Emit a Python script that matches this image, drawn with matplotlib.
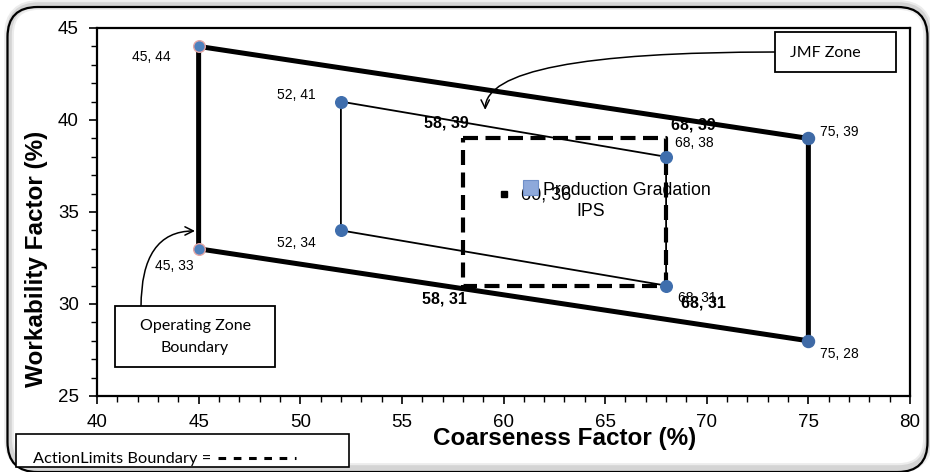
import matplotlib
matplotlib.use("Agg")
import matplotlib.pyplot as plt
from matplotlib.patches import FancyBboxPatch, Rectangle
from matplotlib.lines import Line2D
from matplotlib.ticker import MultipleLocator

plt.rcParams['font.family'] = ['Liberation Sans', 'DejaVu Sans']

# ---- data ----
op_x = [45, 75, 75, 45, 45]
op_y = [44, 39, 28, 33, 44]
jmf_x = [52, 68, 68, 52, 52]
jmf_y = [41, 38, 31, 34, 41]
act_x = [58, 68, 68, 58, 58]
act_y = [39, 39, 31, 31, 39]
prod_x = [60]
prod_y = [36]

W, H = 930, 472
fig = plt.figure(figsize=(W / 100, H / 100), dpi=100)

# outer rounded frame with soft shadow
for lw_, col in [(7, '#ececec'), (4, '#d4d4d4')]:
    shadow = FancyBboxPatch((0.09, 0.04), 9.19, 4.63,
                            boxstyle="round,pad=0,rounding_size=0.3",
                            transform=fig.dpi_scale_trans, fc='none', ec=col, lw=lw_, zorder=0)
    fig.add_artist(shadow)
frame = FancyBboxPatch((0.075, 0.0), 9.2, 4.65,
                       boxstyle="round,pad=0,rounding_size=0.3",
                       transform=fig.dpi_scale_trans, fc='none', ec='black', lw=1.6, zorder=1)
fig.add_artist(frame)

ax = fig.add_axes([97 / W, 1 - 396 / H, (910 - 97) / W, (396 - 28) / H])
ax.set_xlim(40, 80)
ax.set_ylim(25, 45)
ax.xaxis.set_major_locator(MultipleLocator(5))
ax.xaxis.set_minor_locator(MultipleLocator(1))
ax.yaxis.set_major_locator(MultipleLocator(5))
ax.yaxis.set_minor_locator(MultipleLocator(1))
ax.tick_params(which='major', direction='out', length=6, width=1.2, labelsize=13.5)
ax.tick_params(axis='x', which='major', pad=7)
ax.tick_params(axis='y', which='major', pad=7)
ax.tick_params(which='minor', direction='out', length=4, width=1.0)
for s in ax.spines.values():
    s.set_linewidth(1.6)

# operating zone
ax.plot(op_x, op_y, color='black', lw=3.6, zorder=3, solid_capstyle='butt')
ax.scatter([op_x[0], op_x[3]], [op_y[0], op_y[3]], s=70, c='#4F81BD', edgecolors='#E3A5A5', linewidths=1.0, zorder=6)
ax.scatter([op_x[1], op_x[2]], [op_y[1], op_y[2]], s=75, c='#3F6AA6', edgecolors='#3F6AA6', zorder=6)

# JMF zone
ax.plot(jmf_x, jmf_y, color='black', lw=1.3, zorder=4)
ax.scatter(jmf_x[:4], jmf_y[:4], s=70, c='#3F6EAD', edgecolors='#3F6EAD', zorder=6)

# action limits
ln, = ax.plot(act_x, act_y, color='black', lw=3.0, zorder=5)
ln.set_dashes([3.6, 1.8])

# production point
ax.plot(prod_x, prod_y, 's', color='black', ms=5, zorder=7)

def lab(x, y, dx, dy, bold=False, size=10):
    ax.annotate(f"{x}, {y}", (x, y), xytext=(dx, -dy), textcoords='offset pixels',
                ha='center', va='center', fontsize=size,
                fontweight='bold' if bold else 'normal', zorder=8)

lab(45, 44, -47, 11)
lab(45, 33, -24, 17)
lab(75, 39, 31, -6)
lab(75, 28, 31, 13)
lab(52, 41, -45, -7)
lab(52, 34, -45, 13)
lab(68, 38, 28, -14)
lab(68, 31, 31, 12)
lab(58, 39, -16, -15, bold=True, size=11.5)
lab(68, 39, 27, -13, bold=True, size=11.5)
lab(58, 31, -18, 13, bold=True, size=11.5)
lab(68, 31, 37, 17, bold=True, size=11.5)

# production label
fig.add_artist(Rectangle((523, H - 195), 15, 15, transform=None, fc='#8EA9DB', ec='#6F8FC8', lw=0.8, zorder=7))
ax.annotate(f"{prod_x[0]}, {prod_y[0]}", (prod_x[0], prod_y[0]), xytext=(17, -1),
            textcoords='offset pixels', ha='left', va='center', fontsize=13, zorder=8)
fig.text(543 / W, 1 - 191 / H, "Production Gradation", fontsize=12.8, ha='left', va='center', zorder=10)
fig.text(591 / W, 1 - 212 / H, "IPS", fontsize=12.8, ha='center', va='center', zorder=10)

# axis labels
ax.set_xlabel("Coarseness Factor (%)", fontsize=17.5, fontweight='bold')
ax.xaxis.set_label_coords((565 - 97) / 813, (396 - 438) / 368)
ax.xaxis.label.set_va('center')
ax.set_ylabel("Workability Factor (%)", fontsize=17.5, fontweight='bold')
ax.yaxis.set_label_coords((37 - 97) / 813, (396 - 259) / 368)
ax.yaxis.label.set_va('center')

box_font = ['Lato', 'DejaVu Sans']
# JMF Zone callout
fig.add_artist(Rectangle((775, H - 72), 121, 40, transform=None, fc='white', ec='black', lw=1.3, zorder=10))
fig.text(825 / W, 1 - 53 / H, "JMF Zone", fontsize=11.5, family=box_font, ha='center', va='center', zorder=11)
ax.annotate('', xy=(59.1, 40.55), xycoords='data', xytext=(775, H - 52), textcoords='figure pixels',
            arrowprops=dict(arrowstyle='->,head_length=0.6,head_width=0.3', lw=1.1, color='black',
                            connectionstyle='angle3,angleA=0,angleB=90', shrinkA=0, shrinkB=0), zorder=9)

# Operating Zone callout
fig.add_artist(Rectangle((115, H - 367), 160, 61, transform=None, fc='white', ec='black', lw=1.3, zorder=10))
fig.text(195 / W, 1 - 326 / H, "Operating Zone", fontsize=11.5, family=box_font, ha='center', va='center', zorder=11)
fig.text(195 / W, 1 - 348 / H, "Boundary", fontsize=11.5, family=box_font, ha='center', va='center', zorder=11)
ax.annotate('', xy=(44.82, 33.97), xycoords='data', xytext=(141, H - 307), textcoords='figure pixels',
            arrowprops=dict(arrowstyle='->,head_length=0.6,head_width=0.3', lw=1.1, color='black',
                            connectionstyle='angle3,angleA=90,angleB=0', shrinkA=0, shrinkB=0), zorder=9)

# Action limits legend box
fig.add_artist(Rectangle((16, H - 467), 333, 33, transform=None, fc='white', ec='black', lw=1.2, zorder=10))
fig.text(33 / W, 1 - 459 / H, "ActionLimits Boundary = ", fontsize=11.8, family=box_font, ha='left', va='center', zorder=11)
dl = Line2D([218, 296], [H - 458, H - 458], transform=None, color='black', lw=2.2, zorder=11)
dl.set_dashes([2.5, 2.5])
fig.add_artist(dl)

fig.savefig("out.png", dpi=100)
